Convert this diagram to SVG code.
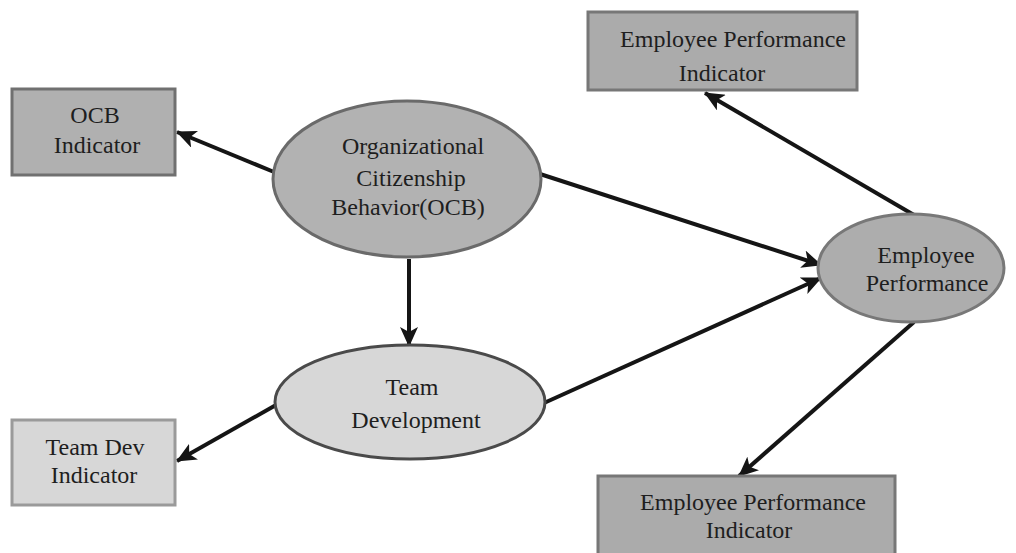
<svg xmlns="http://www.w3.org/2000/svg" width="1016" height="553" viewBox="0 0 1016 553">
  <style>
    .lbl { font-family: "Liberation Serif", "Times New Roman", serif; font-size: 24px; fill: #1e1e1e; text-anchor: middle; }
    .edge { stroke: #151515; stroke-width: 4; fill: none; marker-end: url(#arrow); }
    .dark { fill: #b0b0b0; stroke: #707070; stroke-width: 3; }
    .light { fill: #d7d7d7; stroke: #9a9a9a; stroke-width: 3; }
    .ell-dark { fill: #b2b2b2; stroke: #6a6a6a; stroke-width: 3; }
    .ell-light { fill: #d7d7d7; stroke: #4a4a4a; stroke-width: 3; }
  </style>
  <defs>
    <marker id="arrow" markerUnits="userSpaceOnUse" markerWidth="20" markerHeight="18" viewBox="0 0 20 18" refX="19" refY="9" orient="auto">
      <path d="M0,0 L20,9 L0,18 L5,9 Z" fill="#151515"/>
    </marker>
  </defs>
  <rect width="1016" height="553" fill="#ffffff"/>

  <!-- connectors -->
  <g id="connectors">
    <line class="edge" x1="274" y1="172" x2="177" y2="132"/>
    <line class="edge" x1="540" y1="174" x2="821" y2="265"/>
    <line class="edge" x1="409" y1="259" x2="409" y2="346"/>
    <line class="edge" x1="544" y1="403" x2="821" y2="278"/>
    <line class="edge" x1="276" y1="405" x2="177" y2="461"/>
    <line class="edge" x1="914" y1="215" x2="705" y2="93"/>
    <line class="edge" x1="914" y1="322" x2="739" y2="476"/>
  </g>

  <!-- nodes -->
  <g id="ocb-indicator">
    <rect class="dark" x="12" y="89" width="163" height="86"/>
    <text class="lbl" x="95" y="123">OCB</text>
    <text class="lbl" x="97" y="153">Indicator</text>
  </g>

  <g id="ocb">
    <ellipse class="ell-dark" cx="407" cy="179" rx="134" ry="78"/>
    <text class="lbl" x="413" y="154">Organizational</text>
    <text class="lbl" x="411" y="186">Citizenship</text>
    <text class="lbl" x="408" y="215">Behavior(OCB)</text>
  </g>

  <g id="team-development">
    <ellipse class="ell-light" cx="410" cy="402" rx="135" ry="57"/>
    <text class="lbl" x="412" y="395">Team</text>
    <text class="lbl" x="416" y="428">Development</text>
  </g>

  <g id="team-dev-indicator">
    <rect class="light" x="12" y="420" width="163" height="85"/>
    <text class="lbl" x="95" y="455">Team Dev</text>
    <text class="lbl" x="94" y="483">Indicator</text>
  </g>

  <g id="employee-performance">
    <ellipse class="ell-dark" cx="911" cy="268" rx="93" ry="54" style="fill:#adadad;stroke:#787878"/>
    <text class="lbl" x="926" y="263">Employee</text>
    <text class="lbl" x="927" y="291">Performance</text>
  </g>

  <g id="ep-indicator-top">
    <rect class="dark" x="588" y="12" width="269" height="78" style="fill:#ababab;stroke:#777"/>
    <text class="lbl" x="733" y="47">Employee Performance</text>
    <text class="lbl" x="722" y="81">Indicator</text>
  </g>

  <g id="ep-indicator-bottom">
    <rect class="dark" x="598" y="476" width="297" height="82" style="fill:#ababab;stroke:#777"/>
    <text class="lbl" x="753" y="510">Employee Performance</text>
    <text class="lbl" x="749" y="538">Indicator</text>
  </g>
</svg>
